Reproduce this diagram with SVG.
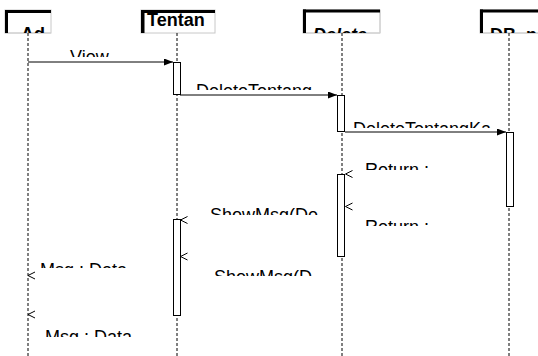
<svg xmlns="http://www.w3.org/2000/svg" width="538" height="356" viewBox="0 0 538 356">
<style>
.hdr{fill:#fff;stroke:#c8c8c8;stroke-width:1}
.bar{fill:#000}
.life{stroke:#000;stroke-width:1;stroke-dasharray:3 2;fill:none}
.act{fill:#fff;stroke:#000;stroke-width:1}
.msg{stroke:#000;stroke-width:1;fill:none}
.ret{stroke:#000;stroke-width:1;fill:none}
.lbl{font-family:"Liberation Sans",Arial,sans-serif;font-size:18px;fill:#000}
.hb{font-family:"Liberation Sans",Arial,sans-serif;font-size:18px;font-weight:bold;fill:#000}
</style>
<defs>
<marker id="fa" markerWidth="9" markerHeight="7" refX="9" refY="3.5" orient="auto" markerUnits="userSpaceOnUse">
<path d="M0,0 L9,3.5 L0,7 Z" fill="#000"/>
</marker>
<clipPath id="cAd" clipPathUnits="userSpaceOnUse"><rect x="5" y="0" width="46" height="33"/></clipPath>
<clipPath id="cDel" clipPathUnits="userSpaceOnUse"><rect x="303" y="0" width="77" height="33"/></clipPath>
<clipPath id="cDB" clipPathUnits="userSpaceOnUse"><rect x="480" y="0" width="58" height="33"/></clipPath>
<clipPath id="c1" clipPathUnits="userSpaceOnUse"><rect x="0" y="0" width="538" height="57"/></clipPath>
<clipPath id="c2" clipPathUnits="userSpaceOnUse"><rect x="0" y="0" width="538" height="90"/></clipPath>
<clipPath id="c3" clipPathUnits="userSpaceOnUse"><rect x="0" y="0" width="500" height="128"/></clipPath>
<clipPath id="c4" clipPathUnits="userSpaceOnUse"><rect x="0" y="0" width="538" height="170"/></clipPath>
<clipPath id="c5" clipPathUnits="userSpaceOnUse"><rect x="0" y="0" width="538" height="226"/></clipPath>
<clipPath id="c6" clipPathUnits="userSpaceOnUse"><rect x="0" y="0" width="538" height="215"/></clipPath>
<clipPath id="c7" clipPathUnits="userSpaceOnUse"><rect x="0" y="0" width="538" height="276"/></clipPath>
<clipPath id="c8" clipPathUnits="userSpaceOnUse"><rect x="0" y="0" width="538" height="268"/></clipPath>
<clipPath id="c9" clipPathUnits="userSpaceOnUse"><rect x="0" y="0" width="538" height="337"/></clipPath>
</defs>

<g id="node-admin">
<rect class="hdr" x="5" y="10" width="46" height="23" stroke="none"/>
<line x1="5" y1="33" x2="51" y2="33" stroke="#d0d0d0" stroke-width="1"/>
<rect class="bar" x="5" y="10" width="46" height="3"/>
<rect class="bar" x="5" y="10" width="3" height="23"/>
<text class="hb" x="21" y="40" clip-path="url(#cAd)">Ad</text>
<line class="life" x1="28" y1="33" x2="28" y2="356"/>
</g>

<g id="node-tentang">
<rect class="hdr" x="141" y="10" width="74" height="23"/>
<rect class="bar" x="141" y="10" width="74" height="3"/>
<rect class="bar" x="141" y="10" width="3.5" height="23"/>
<text class="hb" x="147" y="26">Tentan</text>
<line class="life" x1="177" y1="33" x2="177" y2="356"/>
<rect class="act" x="173.5" y="62.5" width="7" height="32"/>
<rect class="act" x="173.5" y="219.5" width="7" height="96"/>
</g>

<g id="node-delete">
<rect class="hdr" x="303" y="10" width="77" height="23" stroke="none"/>
<line x1="303" y1="33" x2="380" y2="33" stroke="#d0d0d0"/>
<line x1="380" y1="10" x2="380" y2="33" stroke="#d0d0d0"/>
<rect class="bar" x="303" y="9.5" width="77" height="3"/>
<rect class="bar" x="303" y="9.5" width="3" height="23.5"/>
<text class="hb" x="313" y="41" font-style="italic" clip-path="url(#cDel)">Delete</text>
<line class="life" x1="342" y1="33" x2="342" y2="356"/>
<rect class="act" x="337.5" y="95.5" width="7" height="36"/>
<rect class="act" x="337.5" y="174.5" width="7" height="82"/>
</g>

<g id="node-db">
<rect class="hdr" x="480" y="10" width="60" height="23" stroke="none"/>
<line x1="480" y1="33" x2="538" y2="33" stroke="#d0d0d0"/>
<rect class="bar" x="480" y="9.5" width="58" height="3"/>
<rect class="bar" x="480" y="9.5" width="3" height="23.5"/>
<text class="hb" x="490" y="41" clip-path="url(#cDB)">DB_n</text>
<line class="life" x1="509" y1="33" x2="509" y2="356"/>
<rect class="act" x="506.5" y="132.5" width="7" height="74"/>
</g>

<g id="connectors">
<line class="msg" x1="28" y1="62" x2="173" y2="62" marker-end="url(#fa)"/>
<line class="msg" x1="180" y1="95" x2="337" y2="95" marker-end="url(#fa)"/>
<line class="msg" x1="345" y1="132" x2="506" y2="132" marker-end="url(#fa)"/>
<path class="ret" d="M352.5,170.5 L345.5,174 L352.5,177.5"/>
<path class="ret" d="M352.5,203 L345.5,206.5 L352.5,210"/>
<path class="ret" d="M187.5,216.5 L180.5,220 L187.5,223.5"/>
<path class="ret" d="M187.5,253 L180.5,256.5 L187.5,260"/>
<path class="ret" d="M35,272 L28,275.5 L35,279"/>
<path class="ret" d="M35,311 L28,314.5 L35,318"/>
<text class="lbl" x="70" y="63" clip-path="url(#c1)">View</text>
<text class="lbl" x="196" y="97" clip-path="url(#c2)">DeleteTentang</text>
<text class="lbl" x="353" y="135" clip-path="url(#c3)">DeleteTentangKa</text>
<text class="lbl" x="365" y="176" clip-path="url(#c4)">Return :</text>
<text class="lbl" x="365" y="233" clip-path="url(#c5)">Return :</text>
<text class="lbl" x="210" y="221" clip-path="url(#c6)">ShowMsg(De</text>
<text class="lbl" x="214" y="283" clip-path="url(#c7)">ShowMsg(D</text>
<text class="lbl" x="40" y="276" clip-path="url(#c8)">Msg : Data</text>
<text class="lbl" x="45" y="343" clip-path="url(#c9)">Msg : Data</text>
</g>
</svg>
